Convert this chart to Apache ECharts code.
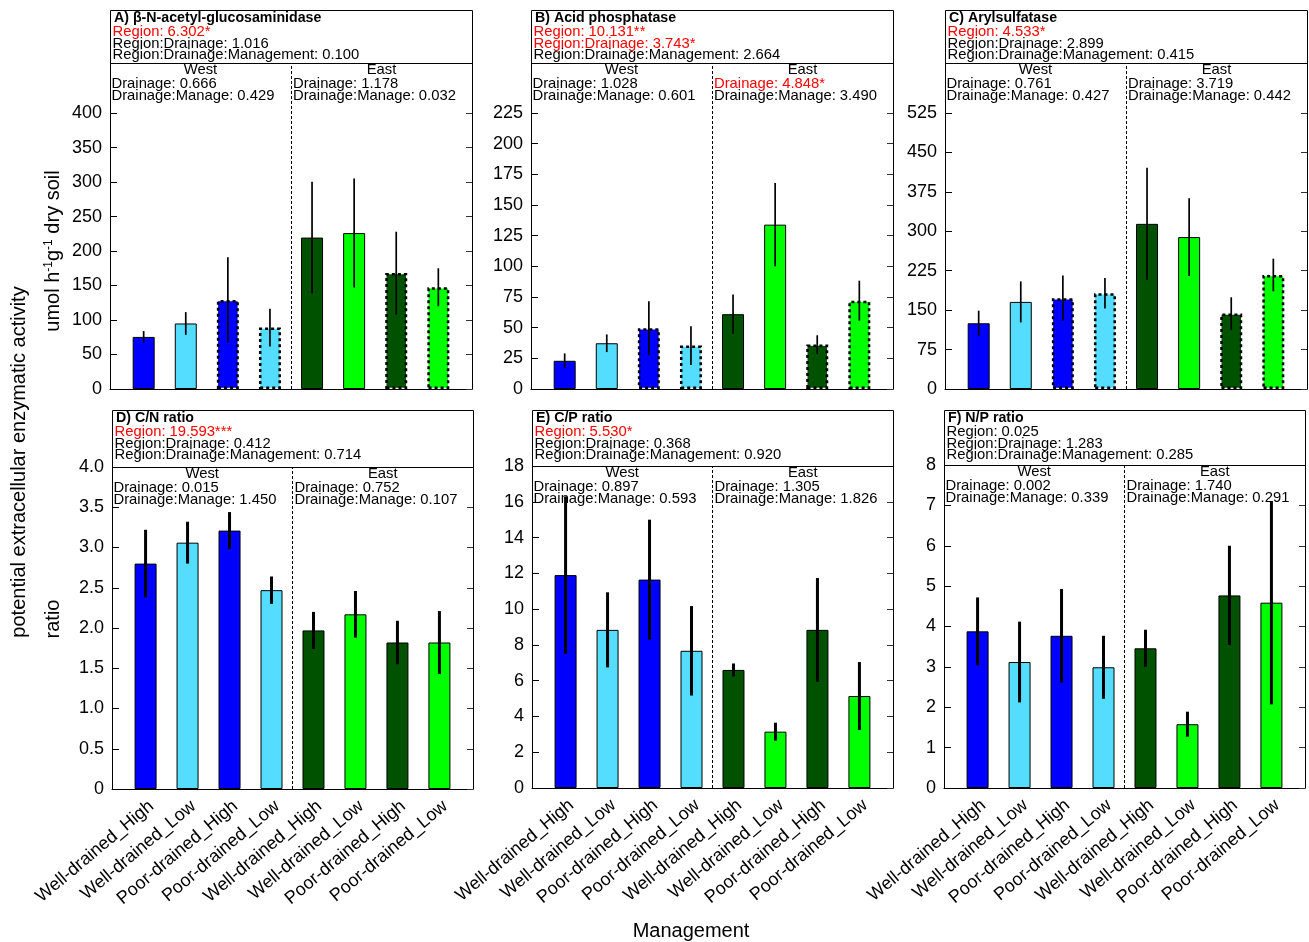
<!DOCTYPE html>
<html><head><meta charset="utf-8">
<script src="https://cdn.jsdelivr.net/npm/echarts@6/dist/echarts.min.js"></script>
<style>html,body{margin:0;padding:0;background:#fff}#c{width:1309px;height:942px}</style>
</head><body><div id="c"></div>
<script>
// ---------------- DATA ----------------
const categories = ['Well-drained_High','Well-drained_Low','Poor-drained_High','Poor-drained_Low',
                    'Well-drained_High','Well-drained_Low','Poor-drained_High','Poor-drained_Low'];

const meanA = [75.5, 95, 129, 89, 219.5, 226, 168, 147.5];
const errA  = [8.5, 16.5, 62, 27.5, 81, 79, 60, 27.5];
const meanB = [23, 37.3, 49.5, 35.4, 61, 134, 36.2, 72];
const errB  = [6, 7.2, 22, 15.8, 16, 34, 7.6, 16.3];
const meanC = [125, 165.7, 172.7, 182.2, 314.2, 289, 143.5, 217];
const errC  = [24, 39, 43, 29, 106.7, 74, 31, 31];
const meanD = [2.80, 3.06, 3.21, 2.47, 1.97, 2.17, 1.82, 1.82];
const errD  = [0.42, 0.26, 0.23, 0.17, 0.23, 0.29, 0.27, 0.39];
const meanE = [11.9, 8.84, 11.65, 7.67, 6.6, 3.15, 8.84, 5.14];
const errE  = [4.4, 2.1, 3.35, 2.5, 0.36, 0.5, 2.9, 1.9];
const meanF = [3.88, 3.12, 3.77, 2.99, 3.46, 1.58, 4.77, 4.59];
const errF  = [0.84, 1.0, 1.16, 0.78, 0.46, 0.31, 1.23, 2.52];

const ticksA = [0, 50, 100, 150, 200, 250, 300, 350, 400];
const ticksB = [0, 25, 50, 75, 100, 125, 150, 175, 200, 225];
const ticksC = [0, 75, 150, 225, 300, 375, 450, 525];
const ticksD = [0, 0.5, 1.0, 1.5, 2.0, 2.5, 3.0, 3.5, 4.0];
const ticksE = [0, 2, 4, 6, 8, 10, 12, 14, 16, 18];
const ticksF = [0, 1, 2, 3, 4, 5, 6, 7, 8];

const titles = ['A) \u03b2-N-acetyl-glucosaminidase', 'B) Acid phosphatase', 'C) Arylsulfatase',
                'D) C/N ratio', 'E) C/P ratio', 'F) N/P ratio'];
// [text, significant]
const statsA = [['Region: 6.302*',1],['Region:Drainage: 1.016',0],['Region:Drainage:Management: 0.100',0]];
const statsB = [['Region: 10.131**',1],['Region:Drainage: 3.743*',1],['Region:Drainage:Management: 2.664',0]];
const statsC = [['Region: 4.533*',1],['Region:Drainage: 2.899',0],['Region:Drainage:Management: 0.415',0]];
const statsD = [['Region: 19.593***',1],['Region:Drainage: 0.412',0],['Region:Drainage:Management: 0.714',0]];
const statsE = [['Region: 5.530*',1],['Region:Drainage: 0.368',0],['Region:Drainage:Management: 0.920',0]];
const statsF = [['Region: 0.025',0],['Region:Drainage: 1.283',0],['Region:Drainage:Management: 0.285',0]];
const westA = [['Drainage: 0.666',0],['Drainage:Manage: 0.429',0]];
const eastA = [['Drainage: 1.178',0],['Drainage:Manage: 0.032',0]];
const westB = [['Drainage: 1.028',0],['Drainage:Manage: 0.601',0]];
const eastB = [['Drainage: 4.848*',1],['Drainage:Manage: 3.490',0]];
const westC = [['Drainage: 0.761',0],['Drainage:Manage: 0.427',0]];
const eastC = [['Drainage: 3.719',0],['Drainage:Manage: 0.442',0]];
const westD = [['Drainage: 0.015',0],['Drainage:Manage: 1.450',0]];
const eastD = [['Drainage: 0.752',0],['Drainage:Manage: 0.107',0]];
const westE = [['Drainage: 0.897',0],['Drainage:Manage: 0.593',0]];
const eastE = [['Drainage: 1.305',0],['Drainage:Manage: 1.826',0]];
const westF = [['Drainage: 0.002',0],['Drainage:Manage: 0.339',0]];
const eastF = [['Drainage: 1.740',0],['Drainage:Manage: 0.291',0]];

// ---------------- LAYOUT / STYLE ----------------
const FONT = '"Liberation Sans", Arial, Helvetica, sans-serif';
const colors = ['#0000FF','#55DDFF','#0000FF','#55DDFF','#005200','#00FF00','#005200','#00FF00'];
const LABEL_SHIFT = 0.14; // label anchor offset (in category units) to mimic the reference placement

const panels = [
  {mean:meanA, err:errA, ticks:ticksA, title:titles[0], stats:statsA, west:westA, east:eastA,
   left:110, top:63, width:362, height:326, boxTop:10, max:472.6, dotted:true, xlab:false, dec:0, elw:1.7},
  {mean:meanB, err:errB, ticks:ticksB, title:titles[1], stats:statsB, west:westB, east:eastB,
   left:531, top:63, width:362, height:326, boxTop:10, max:265.8, dotted:true, xlab:false, dec:0, elw:1.7},
  {mean:meanC, err:errC, ticks:ticksC, title:titles[2], stats:statsC, west:westC, east:eastC,
   left:945, top:63, width:362, height:326, boxTop:10, max:620.2, dotted:true, xlab:false, dec:0, elw:1.7},
  {mean:meanD, err:errD, ticks:ticksD, title:titles[3], stats:statsD, west:westD, east:eastD,
   left:112, top:467, width:361, height:322, boxTop:410, max:4, dotted:false, xlab:true, dec:1, elw:3},
  {mean:meanE, err:errE, ticks:ticksE, title:titles[4], stats:statsE, west:westE, east:eastE,
   left:532, top:466, width:361, height:322, boxTop:410, max:18, dotted:false, xlab:true, dec:0, elw:3},
  {mean:meanF, err:errF, ticks:ticksF, title:titles[5], stats:statsF, west:westF, east:eastF,
   left:944, top:465, width:361, height:323, boxTop:410, max:8, dotted:false, xlab:true, dec:0, elw:3}
];

const grids = [], xAxes = [], yAxes = [], series = [], graphics = [];
const idx = categories.map((c, j) => j);

function txt(x, y, text, opt) {
  opt = opt || {};
  graphics.push({
    type: 'text', x: x, y: y, z: 1, silent: true,
    style: {
      text: text, fill: opt.fill || '#000',
      font: (opt.bold ? 'bold ' : '') + (opt.size || 14.8) + 'px ' + FONT,
      align: opt.align || 'left', verticalAlign: 'middle',
      textAlign: opt.align || 'left', textVerticalAlign: 'middle'
    }
  });
}

panels.forEach((p, i) => {
  grids.push({left:p.left, top:p.top, width:p.width, height:p.height, outerBoundsMode:'none', containLabel:false});
  xAxes.push({
    gridIndex:i, type:'value', min:-0.8, max:7.8, position:'bottom',
    axisLine:{show:true, onZero:false, lineStyle:{color:'#000', width:1}},
    axisTick:{show:false}, splitLine:{show:false},
    axisLabel:{show:p.xlab, customValues:idx.map(v => v + LABEL_SHIFT), rotate:40, margin:15, fontSize:18,
               color:'#000', fontFamily:FONT,
               formatter:v => categories[Math.round(v - LABEL_SHIFT)]}
  });
  const fmt = v => (v === 0 ? '0' : (p.dec ? v.toFixed(p.dec) : String(v)));
  yAxes.push({
    gridIndex:i, type:'value', min:0, max:p.max, position:'left',
    axisLine:{show:true, onZero:false, lineStyle:{color:'#000', width:1}},
    axisTick:{show:true, inside:true, length:7, customValues:p.ticks, lineStyle:{color:'#000', width:1}},
    splitLine:{show:false},
    axisLabel:{show:true, customValues:p.ticks, margin:8, fontSize:18, color:'#000', fontFamily:FONT, formatter:fmt}
  });
  yAxes.push({
    gridIndex:i, type:'value', min:0, max:p.max, position:'right',
    axisLine:{show:true, onZero:false, lineStyle:{color:'#000', width:1}},
    axisTick:{show:true, inside:true, length:6, customValues:p.ticks, lineStyle:{color:'#333', width:1}},
    splitLine:{show:false}, axisLabel:{show:false}
  });
  const poor = j => p.dotted && (j === 2 || j === 3 || j === 6 || j === 7);
  series.push({
    type:'bar', xAxisIndex:i, yAxisIndex:2*i, barWidth:22, z:2, silent:true,
    data: p.mean.map((v, j) => ({
      value:[j, v],
      itemStyle:{color:colors[j], borderColor:'#000', borderWidth: poor(j) ? 2.5 : 1,
                 borderType: poor(j) ? [3, 3] : 'solid'}
    })),
    markLine:{silent:true, symbol:['none','none'], label:{show:false},
      lineStyle:{color:'#000', type:[3,2], width:1},
      data:[{xAxis:3.5}]}
  });
  series.push({
    type:'custom', xAxisIndex:i, yAxisIndex:2*i, z:3, silent:true,
    encode:{x:0, y:[1,2]},
    data: p.mean.map((m, j) => [j, m - p.err[j], m + p.err[j]]),
    renderItem: (params, api) => {
      const a = api.coord([api.value(0), api.value(1)]);
      const b = api.coord([api.value(0), api.value(2)]);
      return {type:'line', shape:{x1:a[0], y1:a[1], x2:b[0], y2:b[1]},
              style:{stroke:'#000', lineWidth:p.elw}};
    }
  });
  // header box
  graphics.push({type:'rect', silent:true, z:1,
    shape:{x:p.left + 0.5, y:p.boxTop + 0.5, width:p.width, height:p.top - p.boxTop},
    style:{fill:'none', stroke:'#000', lineWidth:1}});
  txt(p.left + 4, p.boxTop + 8.5, p.title, {bold:true, size:14.2});
  p.stats.forEach((s, k) => txt(p.left + 2.5, p.boxTop + 22 + k * 11.6, s[0], {fill: s[1] ? '#FF0000' : '#000'}));
  const mid = p.left + p.width / 2;
  txt(p.left + p.width / 4, p.top + 7, 'West', {align:'center'});
  txt(p.left + 3 * p.width / 4, p.top + 7, 'East', {align:'center'});
  p.west.forEach((s, k) => txt(p.left + 1.5, p.top + 21 + k * 11.5, s[0], {fill: s[1] ? '#FF0000' : '#000'}));
  p.east.forEach((s, k) => txt(mid + 2, p.top + 21 + k * 11.5, s[0], {fill: s[1] ? '#FF0000' : '#000'}));
});

// axis titles
graphics.push({type:'text', x:53, y:251, rotation:Math.PI/2, silent:true,
  style:{text:'umol h{sup|-1}g{sup|-1} dry soil', font:'20px ' + FONT, fill:'#000',
         align:'center', verticalAlign:'middle', textAlign:'center', textVerticalAlign:'middle',
         rich:{sup:{fontSize:12, fontFamily:FONT, verticalAlign:'top', padding:[0,0,8,0]}}}});
graphics.push({type:'text', x:53, y:619, rotation:Math.PI/2, silent:true,
  style:{text:'ratio', font:'20px ' + FONT, fill:'#000', align:'center', verticalAlign:'middle',
         textAlign:'center', textVerticalAlign:'middle'}});
graphics.push({type:'text', x:19, y:462, rotation:Math.PI/2, silent:true,
  style:{text:'potential extracellular enzymatic activity', font:'20px ' + FONT, fill:'#000',
         align:'center', verticalAlign:'middle', textAlign:'center', textVerticalAlign:'middle'}});
graphics.push({type:'text', x:691, y:931, silent:true,
  style:{text:'Management', font:'20px ' + FONT, fill:'#000', align:'center', verticalAlign:'middle',
         textAlign:'center', textVerticalAlign:'middle'}});

const chart = echarts.init(document.getElementById('c'), null, {renderer:'canvas'});
chart.setOption({
  animation:false, backgroundColor:'#fff',
  grid:grids, xAxis:xAxes, yAxis:yAxes, series:series, graphic:graphics
});
</script>
</body></html>
